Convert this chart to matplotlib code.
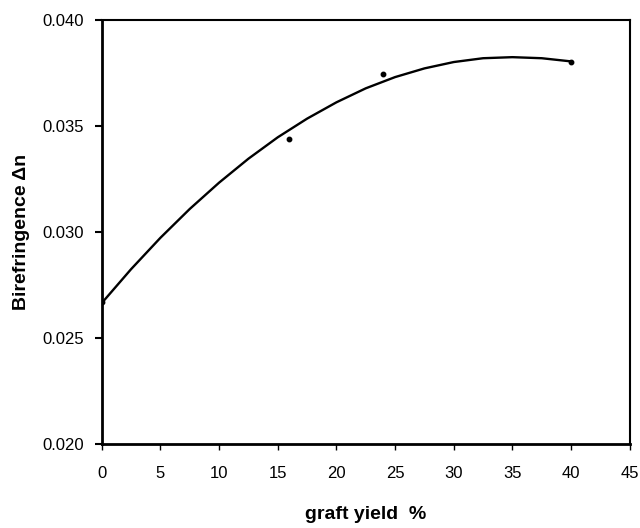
import matplotlib
matplotlib.use("Agg")
from matplotlib import pyplot as plt

plt.rcParams['font.family'] = ['Liberation Sans', 'DejaVu Sans']

# measured points
graft_yield = [0, 16, 24, 40]
birefringence = [0.0267, 0.0344, 0.03745, 0.0380]

# trend line
trend_x = [0, 2.5, 5, 7.5, 10, 12.5, 15, 17.5, 20, 22.5, 25, 27.5, 30, 32.5, 35, 37.5, 40]
trend_y = [0.02665, 0.02825, 0.02973, 0.03109, 0.03233, 0.03346, 0.03447, 0.03535,
           0.03612, 0.03678, 0.03731, 0.03772, 0.03802, 0.0382, 0.03825, 0.0382, 0.03805]

x_ticks = [0, 5, 10, 15, 20, 25, 30, 35, 40, 45]
y_ticks = [0.020, 0.025, 0.030, 0.035, 0.040]

fig = plt.figure(figsize=(6.4, 5.28), dpi=100)
ax = fig.add_axes([0.159, 0.159, 0.825, 0.803])

ax.plot(trend_x, trend_y, color="black", linewidth=1.7, solid_capstyle="round")
ax.plot(graft_yield, birefringence, "o", color="black", markersize=3.2)

ax.set_xlim(0, 45)
ax.set_ylim(0.020, 0.040)
ax.set_xticks(x_ticks)
ax.set_yticks(y_ticks)
ax.set_yticklabels(["{:.3f}".format(v) for v in y_ticks])

ax.tick_params(axis="x", direction="out", length=4, width=1, pad=12, labelsize=12)
ax.tick_params(axis="y", direction="out", length=5, width=1.5, pad=8, labelsize=12)

for side in ["left", "bottom"]:
    ax.spines[side].set_linewidth(2)
for side in ["top", "right"]:
    ax.spines[side].set_linewidth(1.5)

ax.set_xlabel("graft yield  %", fontsize=14, fontweight="bold", labelpad=18)
ax.set_ylabel("Birefringence \u0394n", fontsize=14, fontweight="bold", labelpad=9)

fig.savefig("out.png", dpi=100)
